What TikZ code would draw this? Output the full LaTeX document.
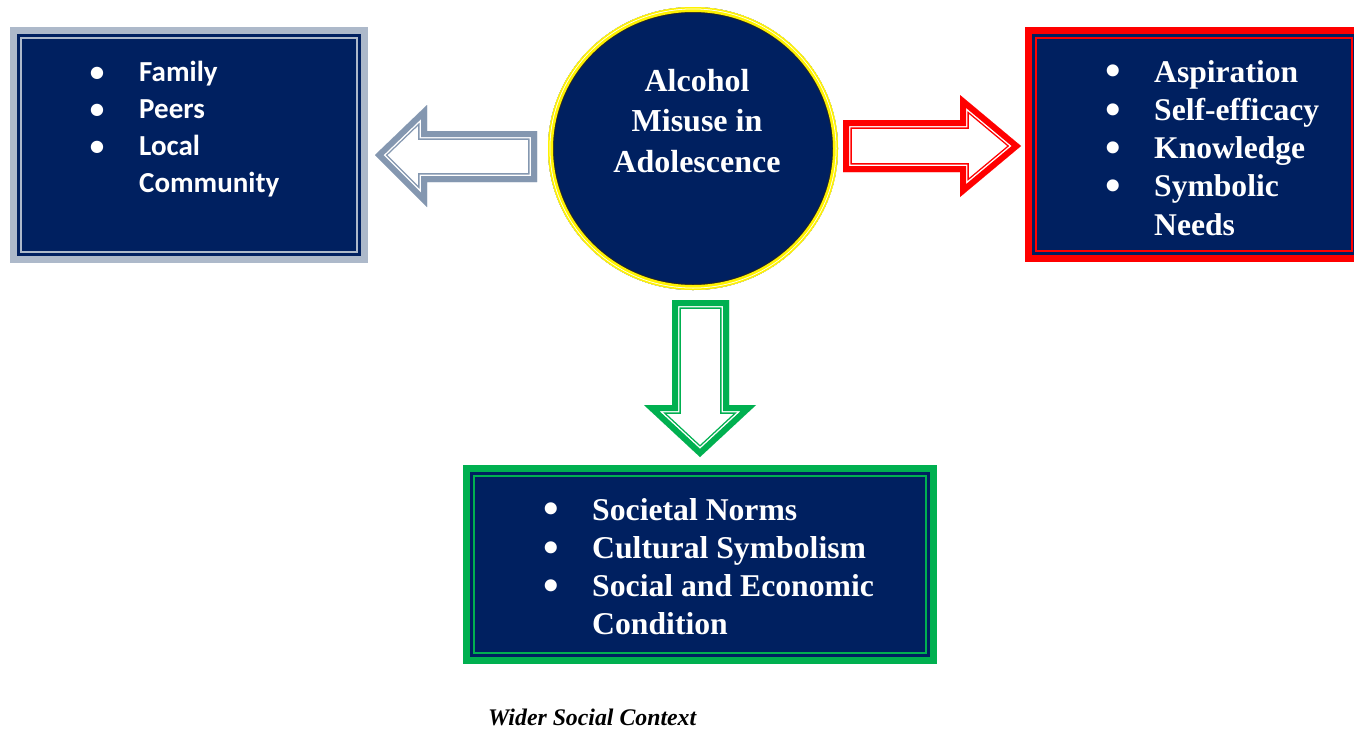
\documentclass[tikz,border=0pt]{standalone}
\usepackage{fontspec}
\setmainfont{Liberation Serif}
\newfontfamily\calib{Carlito}
\usetikzlibrary{shapes.geometric}
\definecolor{navy}{HTML}{002060}
\definecolor{lgrey}{HTML}{ADB9CA}
\definecolor{agrey}{HTML}{8497B0}
\definecolor{gr}{HTML}{00B050}
\definecolor{rd}{HTML}{FF0000}
\newcommand\mybul{\makebox[0pt]{•}}
\newcommand\mybulb{\makebox[0pt]{\raisebox{-0.12em}{\scalebox{1.4}{•}}}}
% #1 node name, #2 outer colour, #3 line colour
\newcommand\myframe[3]{%
  \fill[navy] ([shift={(7pt,-7pt)}]#1.north west) rectangle ([shift={(-7pt,7pt)}]#1.south east);
  \draw[#3, line width=1.3pt] ([shift={(11pt,-11pt)}]#1.north west) rectangle ([shift={(-11pt,11pt)}]#1.south east);
}
% #1 colour, #2 closed path
\newcommand\myblockarrow[2]{%
  \begin{scope}
    \clip #2;
    \draw[#1, line width=17.6pt] #2;
    \draw[white, line width=14.8pt] #2;
    \draw[#1, line width=12pt] #2;
  \end{scope}
}
\begin{document}
\begin{tikzpicture}[x=1pt,y=1pt,line join=miter,
  outerbox/.style={inner sep=0, outer sep=0, anchor=north west},
  listtext/.style={anchor=base west, inner sep=0, text=white}]
\useasboundingbox (0,0) rectangle (1354,-729);
\clip (0,0) rectangle (1354,-729);

% left box
\node[outerbox, fill=lgrey, minimum width=358pt, minimum height=236pt] (lbox) at (10,-27) {};
\myframe{lbox}{lgrey}{lgrey}
\node[listtext, font=\calib\bfseries\fontsize{29}{37.3}\selectfont] (ltext) at (97,-81)
  {\begin{tabular}[t]{@{}l@{}}\mybul\hspace{42pt}Family\\ \mybul\hspace{42pt}Peers\\ \mybul\hspace{42pt}Local\\ \hspace{42pt}Community\end{tabular}};

% right box
\node[outerbox, fill=rd, minimum width=338pt, minimum height=235pt] (rbox) at (1025,-27) {};
\myframe{rbox}{rd}{rd}
\node[listtext, font=\bfseries\fontsize{31.6}{38.3}\selectfont] (rtext) at (1113,-82)
  {\begin{tabular}[t]{@{}l@{}}\mybulb\hspace{41pt}Aspiration\\ \mybulb\hspace{41pt}Self-efficacy\\ \mybulb\hspace{41pt}Knowledge\\ \mybulb\hspace{41pt}Symbolic\\ \hspace{41pt}Needs\end{tabular}};

% bottom box
\node[outerbox, fill=gr, minimum width=474pt, minimum height=199pt] (bbox) at (463,-465) {};
\myframe{bbox}{gr}{gr}
\node[listtext, font=\bfseries\fontsize{31.7}{38.3}\selectfont] (btext) at (551,-520)
  {\begin{tabular}[t]{@{}l@{}}\mybulb\hspace{41pt}Societal Norms\\ \mybulb\hspace{41pt}Cultural Symbolism\\ \mybulb\hspace{41pt}Social and Economic\\ \hspace{41pt}Condition\end{tabular}};

% centre circle
\node[ellipse, minimum width=290pt, minimum height=283pt, inner sep=0] (c) at (693,-148.5) {};
\begin{scope}
  \clip (c.center) ellipse [x radius=145pt, y radius=141.5pt];
  \fill[navy] (c.center) ellipse [x radius=145pt, y radius=141.5pt];
  \draw[black!85, line width=12pt] (c.center) ellipse [x radius=145pt, y radius=141.5pt];
  \draw[yellow, line width=10pt] (c.center) ellipse [x radius=145pt, y radius=141.5pt];
  \draw[white, line width=4.6pt] (c.center) ellipse [x radius=145pt, y radius=141.5pt];
  \draw[yellow, line width=3pt] (c.center) ellipse [x radius=145pt, y radius=141.5pt];
\end{scope}
\node[anchor=base, inner sep=0, text=white, font=\bfseries\fontsize{32}{40.5}\selectfont] (ctext) at (697,-91)
  {\begin{tabular}[t]{@{}c@{}}Alcohol\\Misuse in\\Adolescence\end{tabular}};

% block arrows
\myblockarrow{agrey}{(375,-155) -- (427,-105) -- (427,-131) -- (537,-131) -- (537,-182) -- (427,-182) -- (427,-207) -- cycle}
\myblockarrow{rd}{(1021,-146) -- (960,-95) -- (960,-120) -- (843,-120) -- (843,-172) -- (960,-172) -- (960,-197) -- cycle}
\myblockarrow{gr}{(700,-457) -- (644,-405) -- (672,-405) -- (672,-300) -- (729,-300) -- (729,-405) -- (756,-405) -- cycle}

% caption
\node[anchor=base west, inner sep=0, font=\bfseries\itshape\fontsize{23.8}{28}\selectfont] (cap) at (488,-725) {Wider Social Context};
\end{tikzpicture}
\end{document}
